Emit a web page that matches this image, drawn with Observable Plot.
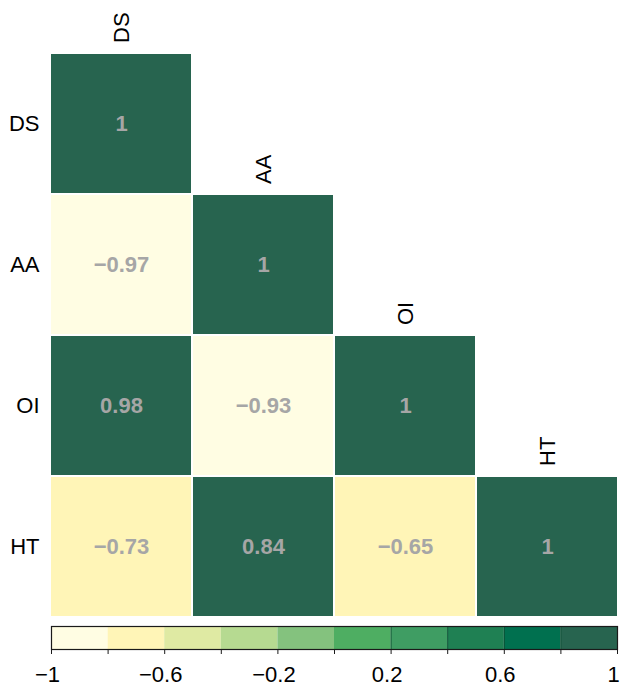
<!DOCTYPE html>
<html>
<head>
<meta charset="utf-8">
<script src="https://cdn.jsdelivr.net/npm/d3@7"></script>
<script src="https://cdn.jsdelivr.net/npm/@observablehq/plot@0.6"></script>
<style>
  html, body { margin: 0; padding: 0; background: #ffffff; }
  #chart { width: 620px; font-family: "Liberation Sans", Arial, Helvetica, sans-serif; }
  #chart svg { display: block; }
</style>
</head>
<body>
<div id="chart"></div>
<script>
// Variables of the correlation matrix (lower triangle, row by row)
const variables = ["DS", "AA", "OI", "HT"];
const corrDS = [1];
const corrAA = [-0.97, 1];
const corrOI = [0.98, -0.93, 1];
const corrHT = [-0.73, 0.84, -0.65, 1];

// Colour bins of the legend
const breaks = [-1, -0.8, -0.6, -0.4, -0.2, 0, 0.2, 0.4, 0.6, 0.8, 1];
const palette = ["#fffde3", "#fff5b7", "#dfeaa3", "#b6da91", "#84c27e",
                 "#4eae62", "#3f9d63", "#1f8053", "#00704f", "#27644f"];
const legendLabels = [-1, -0.6, -0.2, 0.2, 0.6, 1];
const darkBreaks = [0.2, 0.4, 0.6, 0.8];

const rows = [corrDS, corrAA, corrOI, corrHT];
const cells = rows.flatMap((vals, i) =>
  vals.map((v, j) => ({row: variables[i], col: variables[j], value: v})));

const fmt = v => (v < 0 ? "\u2212" : "") + String(Math.abs(v));
const font = "Liberation Sans, Arial, Helvetica, sans-serif";

const color = {type: "threshold", domain: breaks.slice(1, -1), range: palette};

const heat = Plot.plot({
  width: 620,
  height: 621,
  marginLeft: 50,
  marginRight: 2,
  marginTop: 51,
  marginBottom: 3,
  style: {fontFamily: font, background: "#ffffff"},
  x: {type: "band", domain: variables, padding: 0, axis: null},
  y: {type: "band", domain: variables, padding: 0, label: null},
  color,
  marks: [
    Plot.axisY({tickSize: 0, tickPadding: 11, fontSize: 22, fill: "#000"}),
    Plot.cell(cells, {x: "col", y: "row", fill: "value", inset: 1}),
    Plot.text(cells, {
      x: "col", y: "row", text: d => fmt(d.value),
      fill: "#a6a6a6", fontSize: 22, fontWeight: "bold"
    }),
    Plot.text(variables, {
      x: d => d, y: d => d, text: d => d,
      rotate: -90, textAnchor: "start", dy: -81,
      fontSize: 22, fill: "#000"
    })
  ]
});

const legend = Plot.plot({
  width: 620,
  height: 64,
  marginLeft: 51,
  marginRight: 3,
  marginTop: 5,
  marginBottom: 36,
  style: {fontFamily: font, background: "#ffffff", overflow: "visible"},
  x: {domain: [-1, 1], label: null},
  color,
  marks: [
    Plot.rectX(palette.map((c, i) => ({x1: breaks[i], x2: breaks[i + 1]})), {
      x1: "x1", x2: "x2", fill: d => (d.x1 + d.x2) / 2
    }),
    Plot.ruleX(darkBreaks, {stroke: "#0b4a30", strokeOpacity: 0.8}),
    Plot.frame({stroke: "#1a1a1a", strokeWidth: 1.2}),
    Plot.axisX({ticks: breaks, tickSize: 5, tickFormat: () => "", stroke: "#1a1a1a"}),
    Plot.text(legendLabels, {
      x: d => d, text: fmt, frameAnchor: "bottom", lineAnchor: "middle",
      dy: 25, dx: -4, fontSize: 22, fill: "#000"
    })
  ]
});

document.getElementById("chart").append(heat, legend);
</script>
</body>
</html>
